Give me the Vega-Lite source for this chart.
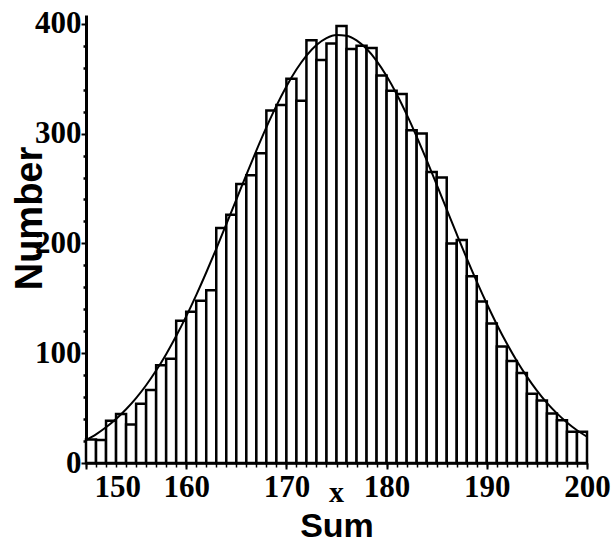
{
  "$schema": "https://vega.github.io/schema/vega-lite/v6.json",
  "autosize": "none",
  "width": 501,
  "height": 448,
  "padding": {"left": 86, "top": 15, "right": 25, "bottom": 86},
  "background": "white",
  "config": {
    "view": {"stroke": null},
    "axis": {"labelOverlap": false, "labelFlush": false, "grid": false}
  },
  "resolve": {"axis": {"x": "independent", "y": "independent"}},
  "datasets": {
    "bars": [
      {"bin_start": 150, "bin_end": 151, "count": 21.5},
      {"bin_start": 151, "bin_end": 152, "count": 21},
      {"bin_start": 152, "bin_end": 153, "count": 38.5},
      {"bin_start": 153, "bin_end": 154, "count": 44.6},
      {"bin_start": 154, "bin_end": 155, "count": 35},
      {"bin_start": 155, "bin_end": 156, "count": 54},
      {"bin_start": 156, "bin_end": 157, "count": 66.4},
      {"bin_start": 157, "bin_end": 158, "count": 89},
      {"bin_start": 158, "bin_end": 159, "count": 95},
      {"bin_start": 159, "bin_end": 160, "count": 129.5},
      {"bin_start": 160, "bin_end": 161, "count": 137.7},
      {"bin_start": 161, "bin_end": 162, "count": 147.7},
      {"bin_start": 162, "bin_end": 163, "count": 157.4},
      {"bin_start": 163, "bin_end": 164, "count": 214},
      {"bin_start": 164, "bin_end": 165, "count": 226},
      {"bin_start": 165, "bin_end": 166, "count": 254},
      {"bin_start": 166, "bin_end": 167, "count": 262},
      {"bin_start": 167, "bin_end": 168, "count": 282},
      {"bin_start": 168, "bin_end": 169, "count": 321},
      {"bin_start": 169, "bin_end": 170, "count": 326},
      {"bin_start": 170, "bin_end": 171, "count": 350},
      {"bin_start": 171, "bin_end": 172, "count": 330},
      {"bin_start": 172, "bin_end": 173, "count": 385},
      {"bin_start": 173, "bin_end": 174, "count": 367},
      {"bin_start": 174, "bin_end": 175, "count": 382},
      {"bin_start": 175, "bin_end": 176, "count": 398},
      {"bin_start": 176, "bin_end": 177, "count": 377},
      {"bin_start": 177, "bin_end": 178, "count": 380},
      {"bin_start": 178, "bin_end": 179, "count": 378},
      {"bin_start": 179, "bin_end": 180, "count": 353},
      {"bin_start": 180, "bin_end": 181, "count": 339},
      {"bin_start": 181, "bin_end": 182, "count": 336},
      {"bin_start": 182, "bin_end": 183, "count": 303},
      {"bin_start": 183, "bin_end": 184, "count": 300},
      {"bin_start": 184, "bin_end": 185, "count": 265},
      {"bin_start": 185, "bin_end": 186, "count": 260},
      {"bin_start": 186, "bin_end": 187, "count": 200},
      {"bin_start": 187, "bin_end": 188, "count": 203},
      {"bin_start": 188, "bin_end": 189, "count": 170},
      {"bin_start": 189, "bin_end": 190, "count": 147},
      {"bin_start": 190, "bin_end": 191, "count": 127},
      {"bin_start": 191, "bin_end": 192, "count": 106},
      {"bin_start": 192, "bin_end": 193, "count": 93},
      {"bin_start": 193, "bin_end": 194, "count": 82},
      {"bin_start": 194, "bin_end": 195, "count": 63},
      {"bin_start": 195, "bin_end": 196, "count": 57},
      {"bin_start": 196, "bin_end": 197, "count": 45},
      {"bin_start": 197, "bin_end": 198, "count": 39},
      {"bin_start": 198, "bin_end": 199, "count": 28.5},
      {"bin_start": 199, "bin_end": 200, "count": 28.5}
    ],
    "curve": [
      {"x": 150, "y": 20.8}, {"x": 151, "y": 26.1}, {"x": 152, "y": 32.5}, {"x": 153, "y": 40.0},
      {"x": 154, "y": 48.9}, {"x": 155, "y": 59.1}, {"x": 156, "y": 70.8}, {"x": 157, "y": 84.2},
      {"x": 158, "y": 99.1}, {"x": 159, "y": 115.6}, {"x": 160, "y": 133.5}, {"x": 161, "y": 152.9},
      {"x": 162, "y": 173.5}, {"x": 163, "y": 195.1}, {"x": 164, "y": 217.4}, {"x": 165, "y": 239.9},
      {"x": 166, "y": 262.5}, {"x": 167, "y": 284.5}, {"x": 168, "y": 305.6}, {"x": 169, "y": 325.2},
      {"x": 170, "y": 342.9}, {"x": 171, "y": 358.3}, {"x": 172, "y": 371.0}, {"x": 173, "y": 380.7},
      {"x": 174, "y": 387.0}, {"x": 175, "y": 389.8}, {"x": 176, "y": 389.1}, {"x": 177, "y": 384.9},
      {"x": 178, "y": 377.2}, {"x": 179, "y": 366.3}, {"x": 180, "y": 352.5}, {"x": 181, "y": 336.1},
      {"x": 182, "y": 317.5}, {"x": 183, "y": 297.3}, {"x": 184, "y": 275.8}, {"x": 185, "y": 253.5},
      {"x": 186, "y": 230.9}, {"x": 187, "y": 208.4}, {"x": 188, "y": 186.3}, {"x": 189, "y": 165.1},
      {"x": 190, "y": 145.0}, {"x": 191, "y": 126.2}, {"x": 192, "y": 108.8}, {"x": 193, "y": 92.9},
      {"x": 194, "y": 78.7}, {"x": 195, "y": 66.0}, {"x": 196, "y": 54.8}, {"x": 197, "y": 45.2},
      {"x": 198, "y": 36.9}, {"x": 199, "y": 29.8}, {"x": 200, "y": 23.9}
    ],
    "mean": [{"m": 175, "label": "x"}]
  },
  "layer": [
    {
      "data": {"name": "bars"},
      "mark": {"type": "bar", "fill": "white", "stroke": "black", "strokeWidth": 2.5},
      "encoding": {
        "x": {
          "field": "bin_start", "type": "quantitative",
          "scale": {"domain": [150, 200], "nice": false, "zero": false},
          "title": "Sum",
          "axis": {
            "orient": "bottom",
            "values": [150, 160, 170, 180, 190, 200],
            "labelAlign": {"condition": {"test": "datum.value === 150", "value": "left"}, "value": "center"},
            "labelOffset": {"condition": {"test": "datum.value === 150", "value": 8}, "value": 0},
            "labelFont": "Liberation Serif", "labelFontWeight": "bold", "labelFontSize": 31,
            "labelColor": "black", "labelPadding": 3, "labelOverlap": false, "labelFlush": false,
            "domainColor": "black", "domainWidth": 2.5,
            "tickColor": "black", "tickWidth": 2, "tickSize": 6,
            "grid": false,
            "titleFont": "Liberation Sans", "titleFontWeight": "bold", "titleFontSize": 34,
            "titleColor": "black", "titlePadding": 7
          }
        },
        "x2": {"field": "bin_end"},
        "y": {
          "field": "count", "type": "quantitative",
          "scale": {"domain": [0, 408], "nice": false},
          "title": "Number",
          "axis": {
            "orient": "left",
            "values": [0, 100, 200, 300, 400],
            "labelFont": "Liberation Serif", "labelFontWeight": "bold", "labelFontSize": 31,
            "labelColor": "black", "labelPadding": 0, "labelOverlap": false, "labelFlush": false,
            "domainColor": "black", "domainWidth": 3,
            "tickColor": "black", "tickWidth": 2, "tickSize": 5,
            "grid": false,
            "titleFont": "Liberation Sans", "titleFontWeight": "bold", "titleFontSize": 38,
            "titleColor": "black", "titleX": -56, "titleY": 203,
            "titleAlign": "center", "titleBaseline": "middle"
          }
        },
        "y2": {"datum": 0}
      }
    },
    {
      "data": {"name": "curve"},
      "mark": {"type": "line", "color": "black", "strokeWidth": 2, "interpolate": "monotone"},
      "encoding": {
        "x": {
          "field": "x", "type": "quantitative",
          "axis": {
            "orient": "bottom", "title": null, "labels": false, "domain": false, "grid": false,
            "values": [150,151,152,153,154,155,156,157,158,159,160,161,162,163,164,165,166,167,168,169,170,171,172,173,174,175,176,177,178,179,180,181,182,183,184,185,186,187,188,189,190,191,192,193,194,195,196,197,198,199,200],
            "tickColor": "black", "tickWidth": 1.5, "tickSize": 4
          }
        },
        "y": {
          "field": "y", "type": "quantitative",
          "axis": {
            "orient": "left", "title": null, "labels": false, "domain": false, "grid": false,
            "values": [20,40,60,80,120,140,160,180,220,240,260,280,320,340,360,380],
            "tickColor": "black", "tickWidth": 2.5, "tickSize": 3
          }
        }
      }
    },
    {
      "data": {"name": "mean"},
      "mark": {"type": "text", "font": "Liberation Serif", "fontWeight": "bold", "fontSize": 30, "baseline": "middle", "dy": 30, "color": "black"},
      "encoding": {
        "x": {"field": "m", "type": "quantitative", "axis": null},
        "y": {"datum": 0, "type": "quantitative", "axis": null},
        "text": {"field": "label"}
      }
    }
  ]
}
